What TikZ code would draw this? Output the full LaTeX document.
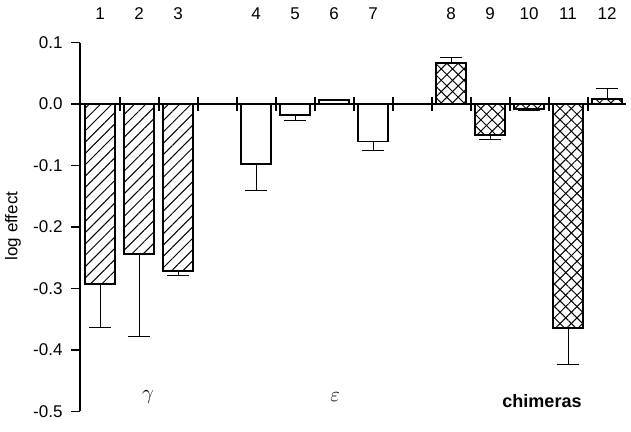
\documentclass[tikz,border=0pt]{standalone}
\usepackage{fontspec}
\setmainfont{Liberation Sans}
\usetikzlibrary{patterns.meta}

% bar macro: slot, value, error end, pattern
\newcommand{\effbar}[5]{%
  \pgfmathsetmacro{\bx}{81+39*#1+4}
  \pgfmathsetmacro{\by}{104-615*#2}
  \pgfmathsetmacro{\be}{104-615*#3}
  \coordinate (b#5top) at (\bx+15,\by);
  \coordinate (b#5err) at (\bx+15,\be);
  \draw[errline] (b#5top) -- (b#5err);
  \draw[errline] ([xshift=-11pt]b#5err) -- ([xshift=11pt]b#5err);
  \path[#4] (\bx,104) rectangle (\bx+30,\by);
  \draw[barline] (\bx,104) rectangle (\bx+30,\by);
}

\begin{document}
\begin{tikzpicture}[x=1pt, y=-1pt,
    barline/.style={line width=1.8pt},
    errline/.style={line width=0.9pt},
    axisline/.style={line width=2pt},
    lbl/.style={font=\fontsize{17}{20}\selectfont},
    hatch/.style={pattern={Lines[angle=45,distance=8pt,line width=1pt]}},
    cross/.style={postaction={pattern={Lines[angle=45,distance=8pt,line width=1pt]}},
                  pattern={Lines[angle=-45,distance=8pt,line width=1pt]}},
    plain/.style={}]
    \useasboundingbox (0,0) rectangle (631,431);

    % Bars
    \effbar{0}{-0.293}{-0.364}{hatch}{1}
    \effbar{1}{-0.244}{-0.378}{hatch}{2}
    \effbar{2}{-0.271}{-0.279}{hatch}{3}
    \effbar{4}{-0.098}{-0.141}{plain}{4}
    \effbar{5}{-0.018}{-0.026}{plain}{5}
    \effbar{6}{0.006}{0.006}{plain}{6}
    \effbar{7}{-0.061}{-0.076}{plain}{7}
    \effbar{9}{0.067}{0.075}{cross}{8}
    \effbar{10}{-0.050}{-0.057}{cross}{9}
    \effbar{11}{-0.008}{-0.011}{cross}{10}
    \effbar{12}{-0.364}{-0.423}{cross}{11}
    \effbar{13}{0.008}{0.026}{cross}{12}

    % Axes
    \draw[axisline] (80,43) -- (80,411);
    \draw[axisline] (80,104) -- (626,104);
    \foreach \k in {1,...,13}
        \draw[line width=1.8pt] (81+39*\k,97) -- (81+39*\k,111);
    \foreach \v/\t in {0.1/0.1, 0/0.0, -0.1/-0.1, -0.2/-0.2, -0.3/-0.3, -0.4/-0.4, -0.5/-0.5} {
        \draw[line width=1.8pt] (71,104-615*\v) -- (80,104-615*\v);
        \node[lbl, anchor=east] (y\t) at (66,104-615*\v) {\t};
    }

    % Labels
    \foreach \s/\n in {0/1, 1/2, 2/3, 4/4, 5/5, 6/6, 7/7, 9/8, 10/9, 11/10, 12/11, 13/12}
        \node[lbl] (n\n) at (81+39*\s+19,14) {\n};
    \node[lbl, rotate=90] (ylab) at (13,226) {log effect};
    \node[font=\fontsize{22}{24}\selectfont] (gam) at (148,397) {$\gamma$};
    \node[font=\fontsize{22}{24}\selectfont] (eps) at (335,397) {$\varepsilon$};
    \node[font=\fontsize{18}{20}\selectfont\bfseries] (chim) at (542,401) {chimeras};
\end{tikzpicture}
\end{document}
